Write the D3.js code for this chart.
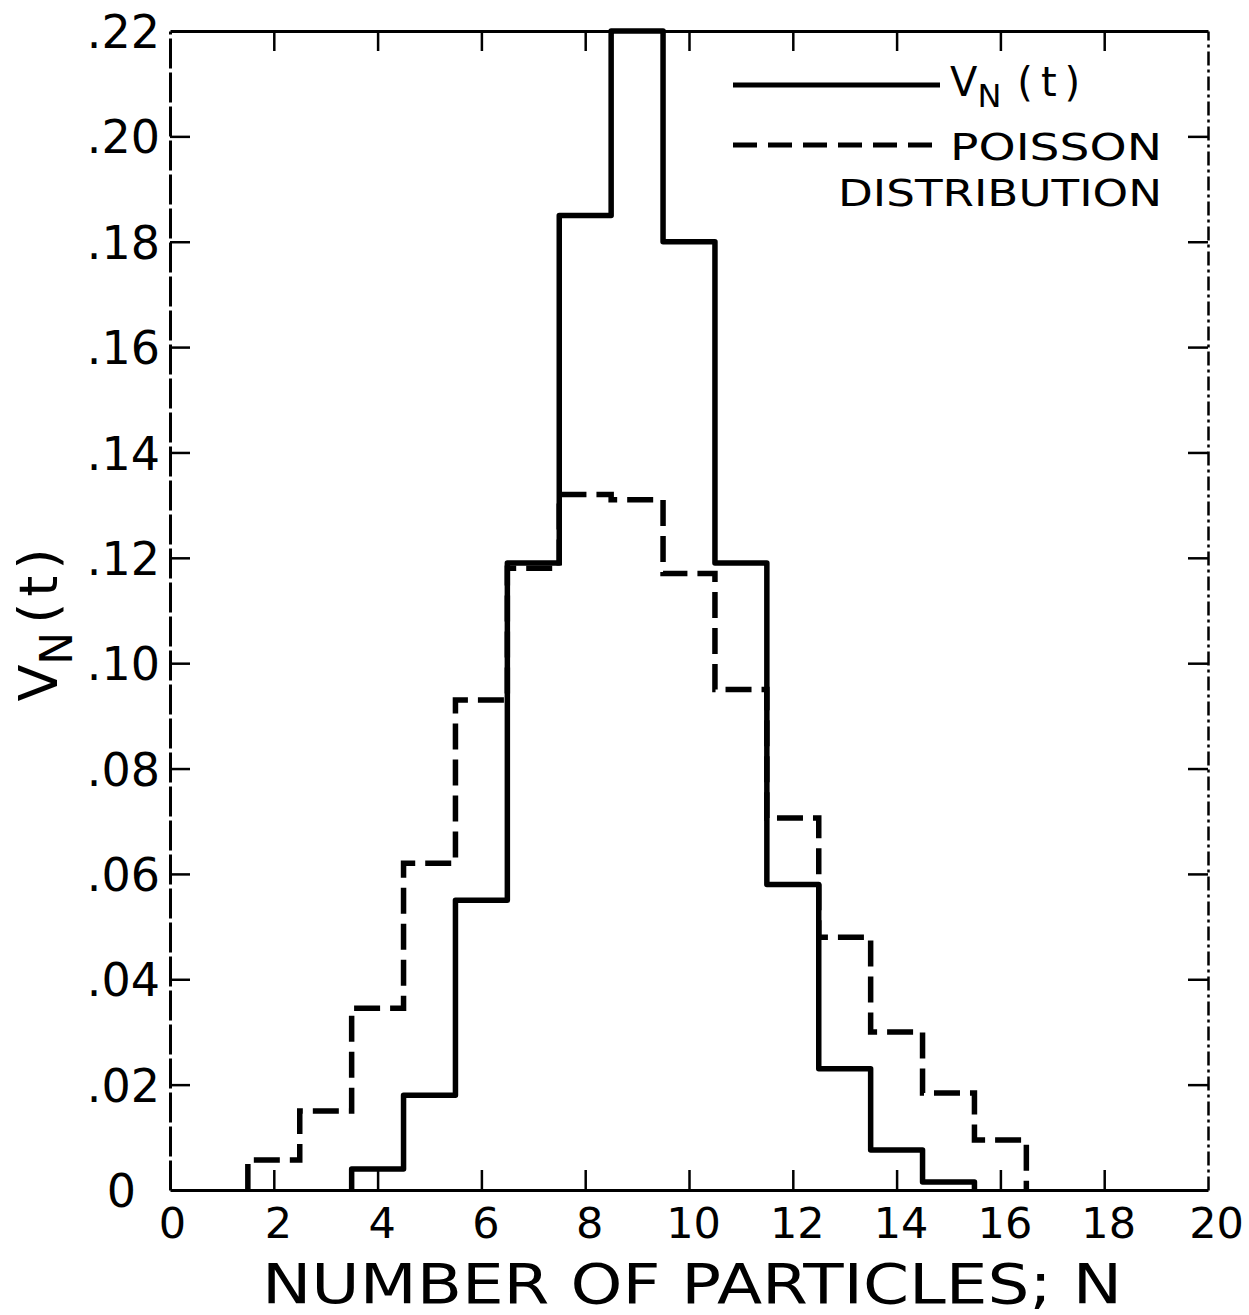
<!DOCTYPE html>
<html>
<head>
<meta charset="utf-8">
<script src="https://cdn.jsdelivr.net/npm/d3@7"></script>
<style>
  body { margin: 0; background: #fff; }
  text { font-family: "DejaVu Sans", sans-serif; fill: #000; }
</style>
</head>
<body>
<script>
// number of particles N (bin centres) and measured v_N(t)
var nSolid = [4, 5, 6, 7, 8, 9, 10, 11, 12, 13, 14, 15];
var vSolid = [0.004, 0.018, 0.055, 0.119, 0.185, 0.22, 0.180, 0.119, 0.058, 0.023, 0.0076, 0.0015];

// poisson distribution for comparison
var nPoisson = [2, 3, 4, 5, 6, 7, 8, 9, 10, 11, 12, 13, 14, 15, 16];
var vPoisson = [0.0057, 0.015, 0.0345, 0.062, 0.093, 0.118, 0.132, 0.131, 0.117, 0.095, 0.0706, 0.048, 0.030, 0.0184, 0.0095];

var xTicks = [0, 2, 4, 6, 8, 10, 12, 14, 16, 18, 20];
var yTicks = [0, .02, .04, .06, .08, .10, .12, .14, .16, .18, .20, .22];
var yTickLabels = ["0", ".02", ".04", ".06", ".08", ".10", ".12", ".14", ".16", ".18", ".20", ".22"];

var width = 1249,
    height = 1315;

var svg = d3.select("body").append("svg")
    .attr("width", width)
    .attr("height", height);

var x = d3.scaleLinear().domain([0, 20]).range([170, 1208]);
var y = d3.scaleLinear().domain([0, .22]).range([1190, 31]);

// axes (ticks point inward on all four sides)
var left = svg.append("g")
    .attr("transform", "translate(" + x(0) + ",0)")
    .call(d3.axisLeft(y).tickValues(yTicks).tickSize(-20).tickSizeOuter(0).tickPadding(10)
      .tickFormat(function(d, i) { return yTickLabels[i]; }));

var right = svg.append("g")
    .attr("transform", "translate(" + x(20) + ",0)")
    .call(d3.axisRight(y).tickValues(yTicks.slice(1, 11)).tickSize(-20).tickSizeOuter(0).tickFormat(""));

var top = svg.append("g")
    .attr("transform", "translate(0," + y(.22) + ")")
    .call(d3.axisTop(x).tickValues(xTicks.slice(1, 10)).tickSize(-20).tickSizeOuter(0).tickFormat(""));

var bottom = svg.append("g")
    .attr("transform", "translate(0," + y(0) + ")")
    .call(d3.axisBottom(x).tickValues(xTicks).tickSize(-20).tickSizeOuter(0).tickPadding(17));

svg.selectAll(".domain").attr("stroke", "#000").attr("stroke-width", 3);
svg.selectAll(".tick line").attr("stroke", "#000").attr("stroke-width", 2.5);
left.select(".domain").attr("stroke-dasharray", "30 4");
right.select(".domain").attr("stroke-width", 2.5).attr("stroke-dasharray", "14 4 3 4");

// hide tick marks at the frame corners
bottom.selectAll(".tick line").filter(function(d) { return d === 0 || d === 20; }).remove();
left.selectAll(".tick line").filter(function(d) { return d === 0 || d === .22; }).remove();

left.selectAll(".tick text")
    .attr("font-size", 46)
    .attr("font-family", "DejaVu Sans")
    .attr("dy", "0.36em")
    .attr("dx", function(d) { return d === 0 ? -24 : 0; });

bottom.selectAll(".tick text")
    .attr("font-size", 43)
    .attr("font-family", "DejaVu Sans")
    .attr("dx", function(d) { return d === 0 ? 2 : d === 20 ? 8 : 4; });

// histogram step outlines
function steps(ns, vs) {
  var pts = [[ns[0] - 0.5, 0]];
  ns.forEach(function(n, i) { pts.push([n - 0.5, vs[i]]); });
  pts.push([ns[ns.length - 1] + 0.5, 0]);
  return pts;
}

var line = d3.line()
    .x(function(d) { return x(d[0]); })
    .y(function(d) { return y(d[1]); })
    .curve(d3.curveStepAfter);

svg.append("path")
    .datum(steps(nPoisson, vPoisson))
    .attr("d", line)
    .attr("fill", "none")
    .attr("stroke", "#000")
    .attr("stroke-width", 5.5)
    .attr("stroke-dasharray", "26 10");

svg.append("path")
    .datum(steps(nSolid, vSolid))
    .attr("d", line)
    .attr("fill", "none")
    .attr("stroke", "#000")
    .attr("stroke-width", 5.5)
    .attr("stroke-linejoin", "round");

// legend
var legend = svg.append("g");
legend.append("line")
    .attr("x1", 733).attr("x2", 940).attr("y1", 85).attr("y2", 85)
    .attr("stroke", "#000").attr("stroke-width", 5);
legend.append("line")
    .attr("x1", 733).attr("x2", 940).attr("y1", 145).attr("y2", 145)
    .attr("stroke", "#000").attr("stroke-width", 5)
    .attr("stroke-dasharray", "24 11");

var lt = legend.append("text").attr("x", 950).attr("y", 96).attr("font-size", 40);
lt.append("tspan").text("V");
lt.append("tspan").attr("font-size", 32).attr("dy", 11).text("N");
lt.append("tspan").attr("dy", -11).attr("dx", 16).attr("letter-spacing", 8).text("(t)");

legend.append("text")
    .attr("x", 950).attr("y", 160)
    .attr("font-size", 38)
    .attr("textLength", 212)
    .attr("lengthAdjust", "spacingAndGlyphs")
    .text("POISSON");
legend.append("text")
    .attr("x", 838).attr("y", 206)
    .attr("font-size", 38)
    .attr("textLength", 324)
    .attr("lengthAdjust", "spacingAndGlyphs")
    .text("DISTRIBUTION");

// axis titles
svg.append("text")
    .attr("x", 262).attr("y", 1303)
    .attr("font-size", 56)
    .attr("textLength", 860)
    .attr("lengthAdjust", "spacingAndGlyphs")
    .text("NUMBER OF PARTICLES; N");

var yl = svg.append("text")
    .attr("transform", "translate(57,622) rotate(-90)")
    .attr("text-anchor", "middle")
    .attr("font-size", 54);
yl.append("tspan").text("V");
yl.append("tspan").attr("font-size", 44).attr("dy", 15).text("N");
yl.append("tspan").attr("dy", -15).attr("dx", 8).attr("letter-spacing", 6).text("(t)");
</script>
</body>
</html>
